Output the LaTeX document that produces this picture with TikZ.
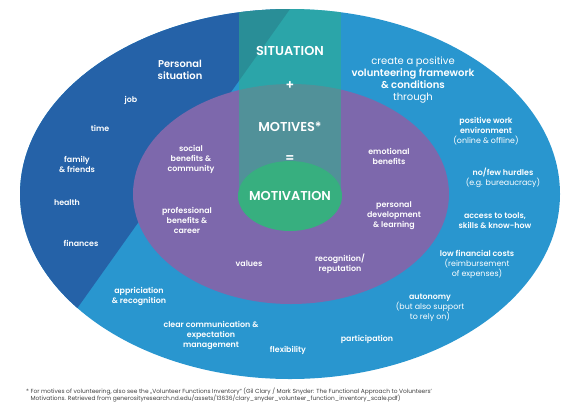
\documentclass[tikz,border=0pt]{standalone}
\usepackage{fontspec}
\setmainfont{Poppins}[BoldFont={Poppins SemiBold}]
\usetikzlibrary{positioning}
\definecolor{framblue}{HTML}{2996CF}
\definecolor{persblue}{HTML}{2562A8}
\definecolor{motpurple}{HTML}{7D68AC}
\definecolor{colteal}{HTML}{2DB38A}
\definecolor{motgreen}{HTML}{37AF7F}
\definecolor{notegray}{HTML}{3F3F3F}

\begin{document}
\begin{tikzpicture}[x=1pt,y=-1pt,line cap=round,
    lbl/.style={text=white,align=center,font=\fontsize{7.9}{10}\selectfont\bfseries},
    head/.style={text=white,align=center,font=\fontsize{10}{12}\selectfont},
    big/.style={text=white,font=\fontsize{12.9}{14}\selectfont\bfseries}]
  \useasboundingbox (0,0) rectangle (580,410);
  % aeusseres oval: rahmenbedingungen
  \fill[framblue] (290,194) ellipse [x radius=270,y radius=185];
  % keil persoenliche situation
  \begin{scope}
    \clip (290,194) ellipse [x radius=270,y radius=185];
    \fill[persblue] (300,-5) -- (12,400) -- (0,400) -- (0,-5) -- cycle;
  \end{scope}
  % motive
  \fill[motpurple] (291,194) ellipse [x radius=158,y radius=110];
  % saeule situation + motive
  \begin{scope}
    \clip (290,194) ellipse [x radius=270,y radius=185];
    \fill[colteal,opacity=.55] (239,0) rectangle (341,197);
  \end{scope}
  \fill[motgreen] (290,196) ellipse [x radius=52,y radius=35];

  % mitte
  \node[big] (sit) at (290,51) {SITUATION};
  \node[big] (plus) at (290,86) {+};
  \node[big] (mot) at (290,127) {MOTIVES*};
  \node[big] (eq) at (290,159) {=};
  \node[big] (motiv) at (290,196) {MOTIVATION};

  % persoenliche situation
  \node[head,font=\fontsize{9.9}{12}\selectfont\bfseries] (pers) at (180,70) {Personal\\situation};
  \foreach \n/\x/\y/\t in {job/131/100/job, time/100/128/time,
      fam/77/164/{family\\\& friends}, health/67/203/health, fin/81/243/finances}
    \node[lbl] (\n) at (\x,\y) {\t};

  % motive im oval
  \node[lbl] (social) at (191,159) {social\\benefits \&\\community};
  \node[lbl] (prof) at (187,220) {professional\\benefits \&\\career};
  \node[lbl] (values) at (249,264) {values};
  \node[lbl] (recog) at (340,264) {recognition/\\reputation};
  \node[lbl] (devel) at (394,216) {personal\\development\\\& learning};
  \node[lbl] (emo) at (389,156) {emotional\\benefits};

  % rahmen
  \node[head] (frame) at (413,80) {create a positive\\
    \textbf{volunteering framework}\\\textbf{\& conditions}\\through};
  \node[lbl] (work) at (486,131) {positive work\\environment\\\mdseries(online \& offline)};
  \node[lbl] (hurdle) at (503,178) {no/few hurdles\\\mdseries(e.g. bureaucracy)};
  \node[lbl] (tools) at (495,221) {access to tools,\\skills \& know-how};
  \node[lbl] (cost) at (477,264) {low financial costs\\\mdseries(reimbursement\\\mdseries of expenses)};
  \node[lbl] (auto) at (430,308) {autonomy\\\mdseries(but also support\\\mdseries to rely on)};
  \node[lbl] (part) at (367,339) {participation};
  \node[lbl] (flex) at (288,350) {flexibility};
  \node[lbl] (comm) at (211,335) {clear communication \&\\expectation\\management};
  \node[lbl] (appr) at (139,296.5) {appriciation\\\& recognition};

  % fussnote
  \node[anchor=north west,align=left,inner sep=0pt,text=notegray,
        font=\fontsize{5.9}{7.2}\selectfont] (note) at (26,387.5)
    {* For motives of volunteering, also see the „Volunteer Functions Inventory“ (Gil Clary / Mark Snyder: The Functional Approach to Volunteers’\\
     \hphantom{* }Motivations. Retrieved from generosityresearch.nd.edu/assets/13636/clary\_snyder\_volunteer\_function\_inventory\_scale.pdf)};
\end{tikzpicture}
\end{document}
